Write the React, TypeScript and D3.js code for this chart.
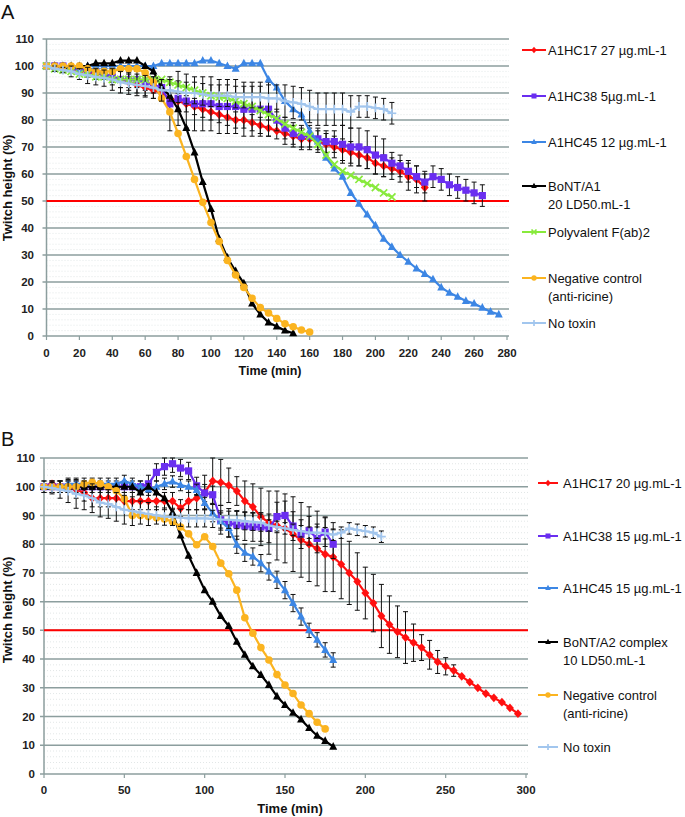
import React from 'react';
import * as d3 from 'd3';

// ---------- DATA ----------
const STEP = 5; // minutes between recordings
const yTicks = [0, 10, 20, 30, 40, 50, 60, 70, 80, 90, 100, 110];
const aXTicks = [0, 20, 40, 60, 80, 100, 120, 140, 160, 180, 200, 220, 240, 260, 280];
const bXTicks = [0, 50, 100, 150, 200, 250, 300];

// Panel A
const aRed = [100,100,99,99,98,98,97,97,96,95,94,93,92,91,90,88,87,86,85,84,83,82,81,80,80,79,78,77,76,75,74,73,73,72,71,70,69,68,67,66,64,63,62,61,59,58,55];
const aRedErr = [0,1,1,1,1,2,2,2,3,3,3,3,3,3,3,3,3,3,3,3,3,3,3,3,3,3,3,3,3,4,4,4,4,4,4,4,4,4,4,4,4,4,4,4,5,5,5];
const aPurple = [100,100,100,99,99,98,98,97,96,95,95,95,94,93,92,86,88,87,86,86,86,85,85,85,84,84,84,84,80,77,75,74,74,73,72,72,71,70,70,69,67,66,64,63,61,59,57,59,58,56,55,54,53,52];
const aPurpleErr = [0,1,1,1,2,2,2,2,2,3,3,3,3,3,3,10,10,10,10,10,10,10,10,10,10,10,10,10,4,4,4,4,4,4,4,4,7,7,7,7,7,7,4,4,4,4,4,4,4,4,4,4,4,4];
const aBlue = [100,100,100,100,99,100,100,100,100,100,100,100,100,100,101,101,101,101,101,102,102,101,100,99,101,101,101,95,92,87,84,82,76,72,66,62,59,53,49,45,41,36,33,30,27.5,25,23,21,18,16,14.5,13,12,10.5,9,8];
const aBlack = [100,100,100,100,100,100,101,101,101,102,102,102,100,98,92,89,84,77,68,57,47,36,29,24,19.5,12,8,5,3.5,2,1];
const aGreen = [100,99,98.5,98,97,97,96,96,95,95,95,95,95,95,95,94,93,92,91,90,89,88.5,88,87,86,85,83.5,82,80.5,78.5,77,75.5,74,71,67,63.5,61,59.5,58,56.5,55,53,51.5];
const aOrange = [100,100,100,100,100,99,98,98,98,99,99,99,97.5,94,88,83,75,66.5,58,49.5,42,35,28,22.6,18,14,10.5,8.5,6.5,4.5,3.4,2.2,1.5];
const aNoTox = [100,99,98.5,98,97,96.5,96,95.5,95,94,93.5,93,92.5,92,91,91,90.5,90,90,89.5,89,89,89,88.5,88.5,88.5,88.5,88,88,87,86.5,86,85,84,84,84,84,83,85,85,84.5,84,82.5];
const aNoToxErr = [0,1,1,2,2,3,3,3,4,4,4,4,4,4,4,4,4,4,4,4,4,4,4,4,4,4,4,5,5,6,6,6,6,6,6,6,6,6,4,4,4,4,4];

// Panel B
const bRed = [100,101,100,100,99,98,96,96,96,96,95,95,95,95,95,95,95,92.5,95,96,98,102,101.5,100.5,98.5,95,93,89.5,87.5,86.5,85.5,83.5,81.5,80,78.5,76.5,75.5,73,70,67,63,59.5,55,52,49.5,47.5,45.7,44,41.5,39,37.5,36,34,32,30,28,26.5,25,23,21];
const bRedErr = [0,1,2,2,3,3,3,3,3,3,3,3,3,3,3,3,3,3,3,4,6,8,8,6,5,7,8,10,11,12,12,13,13,13,13,13,12,12,11,10,9,10,11,10,9,9,6.5,4.5,5,4,3,2,0,0,0,0,0,0,0,0];
const bPurple = [100,100,100,100,100,100,100,100,100,100,100,100,100,101,105,107,108,106.5,105.5,100.3,97.8,97.2,88.5,87.4,86.7,86.3,86,86,85.5,89.6,90,86.3,83.5,84.7,82,84.2,80];
const bPurpleErr = [2,2,2,2,2,2,2,2,2,2,2,2,2,3,3,3,3,3,3,3,3,3,5,5,5,5,5,5,5,5,5,5,5,5,5,5,5];
const bBlue = [100,100,100,101,101,101,101,101,101,101,102,101,100,99,100,101,101.8,100.6,100,98.9,94.3,90.8,87.9,85.6,79.8,77,75.7,73.4,70.5,67.6,64,59.5,54.8,50,46.7,43.2,39.7];
const bBlueErr = [2,2,2,2,2,2,2,2,2,2,2,2,2,2,2,2,2,2,2,2,2,3,3,3,3,3,3,3,3,3,3,3,3,2.5,2.5,2.5,2.5];
const bBlack = [100,100,100,100,100,100,100,100,100,100,100,100,98,100,98,96,91,83,76,70,64,60,55,51.5,46,41.5,37.5,34.5,31,27,24,21.3,19,16,13.3,11.5,9.5];
const bOrange = [100,100,100,100,100,101,101.5,101,100,98.6,95.8,90,90,89.6,89.2,88.8,87.8,86,83.6,79.8,82.6,79.2,73.4,69.7,64,54.4,49,44,39.7,34.6,31,28,24,21,18,15.7];
const bNoTox = [100,99.5,99,98.5,97.5,97,96,94.5,94,93,92,91.5,91,90.5,90,89.6,89.5,89.2,89,89,89,88.8,88.6,88.5,88.4,88,87.8,87.5,86.5,86,85.5,85,84.5,84,84,83.8,83.3,84,85.5,85,84.5,84,82.6];
const bNoToxErr = [0,2,3,4,5,5,5,5,5,5,5,5,4,4,3,3,3,3,3,3,3,3,3,3,3,3,3,3,2,2,2,2,2,2,2,2,2,2,2,2,2,2,2];

// ---------- STYLE ----------
const FONT = "'Liberation Sans', Arial, Helvetica, sans-serif";
const C = {
  red: '#ff1010',
  purple: '#6a2ef0',
  blue: '#3c86e4',
  black: '#000000',
  green: '#88ea3c',
  orange: '#fbb420',
  notox: '#a2c6ee',
  grid: '#8c9e9e',
};

type Mk = 'diamond' | 'square' | 'triangle' | 'circle' | 'x' | 'plus';
interface Series { values: number[]; err?: number[]; color: string; mk: Mk; }
interface LegendItem { lines: string[]; color: string; mk: Mk; y: number; }

function Marker({ mk, x, y, color, s = 4 }: { mk: Mk; x: number; y: number; color: string; s?: number }) {
  switch (mk) {
    case 'diamond':
      return <path d={`M${x},${y - s - 0.4}L${x + s},${y}L${x},${y + s + 0.4}L${x - s},${y}Z`} fill={color} />;
    case 'square':
      return <rect x={x - s * 0.9} y={y - s * 0.9} width={s * 1.8} height={s * 1.8} fill={color} />;
    case 'triangle':
      return <path d={`M${x},${y - s * 1.15}L${x + s},${y + s * 0.75}L${x - s},${y + s * 0.75}Z`} fill={color} />;
    case 'circle':
      return <circle cx={x} cy={y} r={s * 0.95} fill={color} />;
    case 'x':
      return <path d={`M${x - s * 0.9},${y - s * 0.9}L${x + s * 0.9},${y + s * 0.9}M${x - s * 0.9},${y + s * 0.9}L${x + s * 0.9},${y - s * 0.9}`} stroke={color} strokeWidth={1.7} fill="none" />;
    case 'plus':
      return <path d={`M${x - s * 1.1},${y}H${x + s * 1.1}M${x},${y - s * 1.1}V${y + s * 1.1}`} stroke={color} strokeWidth={1.7} fill="none" />;
  }
  return null;
}

interface PanelCfg {
  letter: string; letterY: number;
  xMax: number; xTicks: number[];
  left: number; right: number; top: number; bottom: number;
  yLabelX: number; xLabelY: number; xTitleX: number; xTitleY: number; xTitleSize: number;
  yTitleX: number; yTitleY: number;
  series: Series[];
  legend: LegendItem[]; legLine: [number, number]; legText: number;
}

function Panel({ c }: { c: PanelCfg }) {
  const x = d3.scaleLinear().domain([0, c.xMax]).range([c.left, c.right]);
  const y = d3.scaleLinear().domain([0, 110]).range([c.bottom, c.top]);
  const line = d3.line<number>().x((_, i) => x(i * STEP)).y(d => y(d));
  const minor = d3.range(2, 110, 2).filter(v => v % 10 !== 0);
  return (
    <g>
      <text x={1} y={c.letterY} fontFamily={FONT} fontSize={20} fill="#111">{c.letter}</text>
      {minor.map(v => (
        <line key={'m' + v} x1={c.left} x2={c.right + 2} y1={y(v)} y2={y(v)} stroke="#d5dcdc" strokeWidth={0.7} strokeDasharray="1 2" />
      ))}
      {yTicks.filter(v => v > 0).map(v => (
        <line key={'g' + v} x1={c.left - 4} x2={c.right + 2} y1={y(v)} y2={y(v)} stroke={C.grid} strokeWidth={1.5} />
      ))}
      <line x1={c.left} x2={c.left} y1={c.top} y2={c.bottom} stroke={C.grid} strokeWidth={1.5} />
      <line x1={c.left - 4} x2={c.right + 2} y1={c.bottom} y2={c.bottom} stroke={C.grid} strokeWidth={1.5} />
      {c.xTicks.map(t => (
        <line key={'xt' + t} x1={x(t)} x2={x(t)} y1={c.bottom} y2={c.bottom + 4} stroke={C.grid} strokeWidth={1.2} />
      ))}
      {yTicks.map(v => (
        <text key={'yl' + v} x={c.yLabelX} y={y(v)} dy="0.36em" textAnchor="end" fontFamily={FONT} fontSize={11.5} fontWeight="bold" fill="#222">{v}</text>
      ))}
      {c.xTicks.map(t => (
        <text key={'xl' + t} x={x(t)} y={c.xLabelY} textAnchor="middle" fontFamily={FONT} fontSize={11.5} fontWeight="bold" fill="#222">{t}</text>
      ))}
      <text x={c.xTitleX} y={c.xTitleY} textAnchor="middle" fontFamily={FONT} fontSize={c.xTitleSize} fontWeight="bold" fill="#111">Time (min)</text>
      <text transform={`translate(${c.yTitleX},${c.yTitleY}) rotate(-90)`} textAnchor="middle" fontFamily={FONT} fontSize={13} fontWeight="bold" fill="#111">Twitch height (%)</text>
      <line x1={c.left} x2={c.right + 2} y1={y(50)} y2={y(50)} stroke="#ff0000" strokeWidth={2} />
      {c.series.map((s, si) => (
        <g key={'s' + si}>
          {s.err && s.values.map((v, i) => {
            const e = s.err![i];
            if (!e) return null;
            const xx = x(i * STEP);
            const y1 = y(Math.min(110, v + e));
            const y2 = y(v - e);
            return (
              <g key={'e' + i} stroke="#111" strokeWidth={1}>
                <line x1={xx} x2={xx} y1={y1} y2={y2} />
                <line x1={xx - 2.5} x2={xx + 2.5} y1={y1} y2={y1} />
                <line x1={xx - 2.5} x2={xx + 2.5} y1={y2} y2={y2} />
              </g>
            );
          })}
          <path d={line(s.values) || ''} fill="none" stroke={s.color} strokeWidth={2.2} strokeLinejoin="round" />
          {s.values.map((v, i) => (
            <Marker key={'p' + i} mk={s.mk} x={x(i * STEP)} y={y(v)} color={s.color} />
          ))}
        </g>
      ))}
      {c.legend.map((l, li) => (
        <g key={'l' + li}>
          <line x1={c.legLine[0]} x2={c.legLine[1]} y1={l.y} y2={l.y} stroke={l.color} strokeWidth={2} />
          <Marker mk={l.mk} x={(c.legLine[0] + c.legLine[1]) / 2} y={l.y} color={l.color} s={2.8} />
          {l.lines.map((t, ti) => (
            <text key={ti} x={c.legText} y={l.y + ti * 18} dy="0.36em" fontFamily={FONT} fontSize={13} fill="#111">{t}</text>
          ))}
        </g>
      ))}
    </g>
  );
}

const panelA: PanelCfg = {
  letter: 'A', letterY: 19,
  xMax: 280, xTicks: aXTicks,
  left: 46.5, right: 507, top: 39, bottom: 336,
  yLabelX: 34, xLabelY: 357, xTitleX: 270, xTitleY: 375, xTitleSize: 12.5,
  yTitleX: 12, yTitleY: 188,
  series: [
    { values: aRed, err: aRedErr, color: C.red, mk: 'diamond' },
    { values: aPurple, err: aPurpleErr, color: C.purple, mk: 'square' },
    { values: aBlue, color: C.blue, mk: 'triangle' },
    { values: aBlack, color: C.black, mk: 'triangle' },
    { values: aGreen, color: C.green, mk: 'x' },
    { values: aOrange, color: C.orange, mk: 'circle' },
    { values: aNoTox, err: aNoToxErr, color: C.notox, mk: 'plus' },
  ],
  legend: [
    { lines: ['A1HC17 27 µg.mL-1'], color: C.red, mk: 'diamond', y: 50 },
    { lines: ['A1HC38 5µg.mL-1'], color: C.purple, mk: 'square', y: 96 },
    { lines: ['A1HC45 12 µg.mL-1'], color: C.blue, mk: 'triangle', y: 142 },
    { lines: ['BoNT/A1', '20 LD50.mL-1'], color: C.black, mk: 'triangle', y: 186 },
    { lines: ['Polyvalent F(ab)2'], color: C.green, mk: 'x', y: 232 },
    { lines: ['Negative control', '(anti-ricine)'], color: C.orange, mk: 'circle', y: 278 },
    { lines: ['No toxin'], color: C.notox, mk: 'plus', y: 323 },
  ],
  legLine: [522, 546], legText: 548,
};

const panelB: PanelCfg = {
  letter: 'B', letterY: 446,
  xMax: 300, xTicks: bXTicks,
  left: 44, right: 526, top: 458, bottom: 774,
  yLabelX: 35, xLabelY: 794, xTitleX: 290, xTitleY: 813, xTitleSize: 13,
  yTitleX: 12, yTitleY: 610,
  series: [
    { values: bRed, err: bRedErr, color: C.red, mk: 'diamond' },
    { values: bPurple, err: bPurpleErr, color: C.purple, mk: 'square' },
    { values: bBlue, err: bBlueErr, color: C.blue, mk: 'triangle' },
    { values: bBlack, color: C.black, mk: 'triangle' },
    { values: bOrange, color: C.orange, mk: 'circle' },
    { values: bNoTox, err: bNoToxErr, color: C.notox, mk: 'plus' },
  ],
  legend: [
    { lines: ['A1HC17 20 µg.mL-1'], color: C.red, mk: 'diamond', y: 483 },
    { lines: ['A1HC38 15 µg.mL-1'], color: C.purple, mk: 'square', y: 536 },
    { lines: ['A1HC45 15 µg.mL-1'], color: C.blue, mk: 'triangle', y: 588 },
    { lines: ['BoNT/A2 complex', '10 LD50.mL-1'], color: C.black, mk: 'triangle', y: 642 },
    { lines: ['Negative control', '(anti-ricine)'], color: C.orange, mk: 'circle', y: 695 },
    { lines: ['No toxin'], color: C.notox, mk: 'plus', y: 747 },
  ],
  legLine: [538, 558], legText: 563,
};

export default function App() {
  return (
    <svg width={685} height={817} style={{ position: 'absolute', left: 0, top: 0, background: '#fff' }}>
      <rect width={685} height={817} fill="#fff" />
      <Panel c={panelA} />
      <Panel c={panelB} />
    </svg>
  );
}
